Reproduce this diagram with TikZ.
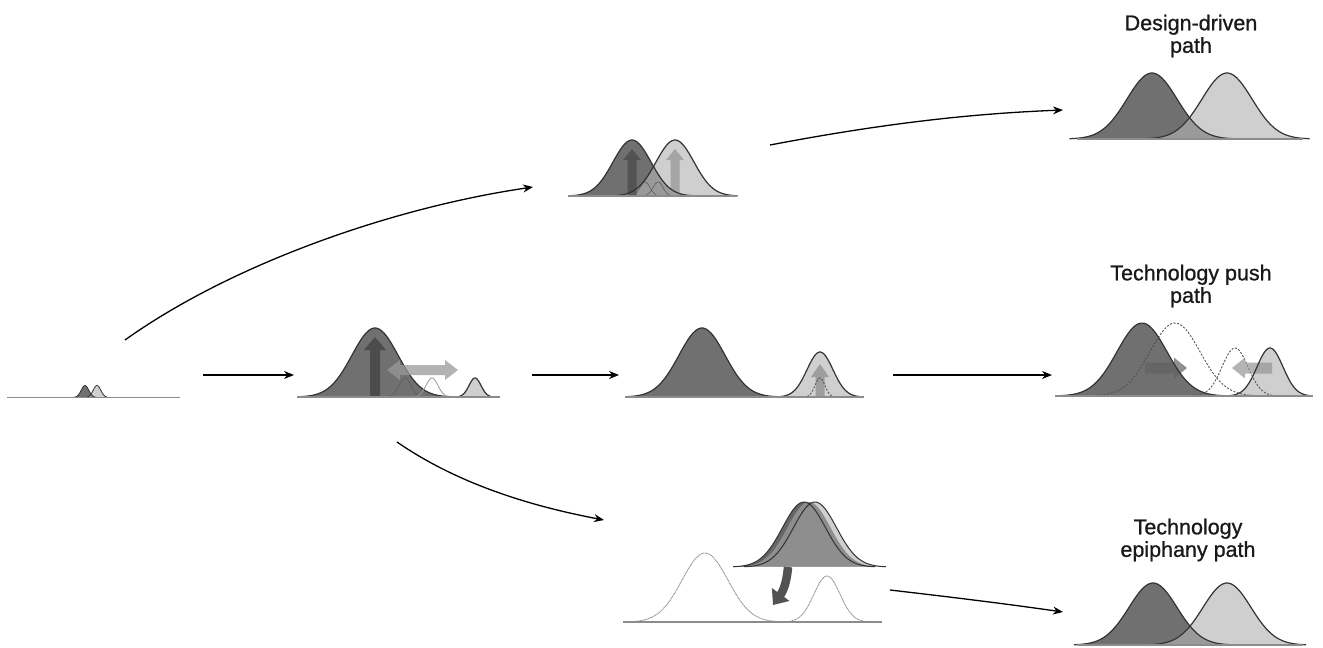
\documentclass[tikz,border=0pt]{standalone}
\usepackage{fontspec}
\setmainfont{Liberation Sans}
\newfontfamily\lblfont{Liberation Sans}[FakeBold=0.9]
\usetikzlibrary{arrows.meta}
\definecolor{dk}{HTML}{707070}
\definecolor{lt}{HTML}{CFCFCF}
\definecolor{ov}{HTML}{9A9A9A}
\definecolor{ln}{HTML}{333333}
\definecolor{bl}{HTML}{8C8C8C}
\definecolor{md}{HTML}{8E8E8E}
% gaussian: mu, base y, sigma, height
\newcommand{\gc}[4]{plot[domain=-3.3*#3:3.3*#3,samples=60,smooth] ({#1+\x},{#2-#4*exp(-0.5*(\x/#3)^2)})}
% overlap of two equal gaussians: mu1<mu2, base, sigma, height
\newcommand{\gmin}[5]{plot[domain=#2-3.3*#4:#1+3.3*#4,samples=60,smooth] (\x,{#3-#5*min(exp(-0.5*((\x-#1)/#4)^2),exp(-0.5*((\x-#2)/#4)^2))})}
% vertical block arrow up: x, bottom, tip, shaft half, head half, head length
\newcommand{\uparr}[6]{({#1-#4},{#2}) -- ({#1-#4},{#3+#6}) -- ({#1-#5},{#3+#6}) -- ({#1},{#3}) -- ({#1+#5},{#3+#6}) -- ({#1+#4},{#3+#6}) -- ({#1+#4},{#2}) -- cycle}
% horizontal block arrow: x0, tip x, y, shaft half, head half, head length (signed)
\newcommand{\harr}[6]{({#1},{#3-#4}) -- ({#2-#6},{#3-#4}) -- ({#2-#6},{#3-#5}) -- ({#2},{#3}) -- ({#2-#6},{#3+#5}) -- ({#2-#6},{#3+#4}) -- ({#1},{#3+#4}) -- cycle}
% double block arrow: x0, x1, y, shaft half, head half, head length
\newcommand{\dharr}[6]{({#1},{#3}) -- ({#1+#6},{#3-#5}) -- ({#1+#6},{#3-#4}) -- ({#2-#6},{#3-#4}) -- ({#2-#6},{#3-#5}) -- ({#2},{#3}) -- ({#2-#6},{#3+#5}) -- ({#2-#6},{#3+#4}) -- ({#1+#6},{#3+#4}) -- ({#1+#6},{#3+#5}) -- cycle}
\tikzset{
  dkf/.style={fill=dk},
  ltf/.style={fill=lt},
  ovf/.style={fill=ov},
  outl/.style={draw=ln,line width=1.2pt},
  thin/.style={draw=ln!80,line width=0.6pt},
  dashc/.style={draw=ln!85,line width=0.9pt,dash pattern=on 2pt off 1.6pt},
  dotc/.style={draw=black!45,line width=0.9pt,dash pattern=on 1pt off 0.6pt},
  baseln/.style={draw=bl,line width=1.8pt},
  conn/.style={draw=black,line width=1.3pt,-{Stealth[length=10pt,width=8pt]}},
  lbl/.style={font=\lblfont\fontsize{21.5}{22.5}\selectfont,align=center,text=black!90},
}
\begin{document}
\begin{tikzpicture}[x=1pt,y=-1pt]
\useasboundingbox (0,0) rectangle (1323,648);

% ---------- Panel 1 (left, tiny) ----------
\fill[dkf] \gc{85}{397.5}{3.8}{12} -- cycle;
\fill[ltf] \gc{97}{397.5}{3.8}{12} -- cycle;
\fill[ovf] \gmin{85}{97}{397.5}{3.8}{12} -- cycle;
\draw[ln,line width=0.8pt] \gc{85}{397.5}{3.8}{12};
\draw[ln,line width=0.8pt] \gc{97}{397.5}{3.8}{12};
\draw[baseln] (7,397.5) -- (180,397.5);

% ---------- Panel 2 ----------
\fill[dkf] \gc{375}{397}{23}{69} -- cycle;
\draw[outl] \gc{375}{397}{23}{69};
\draw[thin] \gc{405}{397}{6}{19};
\draw[draw=black!40,line width=0.8pt] \gc{432}{397}{6}{19};
\fill[ltf] \gc{475}{397}{6}{19} -- cycle;
\draw[outl] \gc{475}{397}{6}{19};
\fill[black!70] \uparr{375}{397}{337}{5}{11}{13};
\fill[black!40,opacity=0.75] \dharr{387}{458}{370}{5}{10}{13};
\draw[baseln] (297,397) -- (500,397);

% ---------- Panel 3 (top middle) ----------
\fill[dkf] \gc{632}{196}{19}{56} -- cycle;
\fill[ltf] \gc{675}{196}{19}{56} -- cycle;
\fill[ovf] \gmin{632}{675}{196}{19}{56} -- cycle;
\draw[thin] \gc{645}{196}{5}{14};
\draw[thin] \gc{658}{196}{5}{14};
\fill[black!70,opacity=0.8] \uparr{632}{196}{149}{4.5}{9}{11};
\fill[black!38,opacity=0.85] \uparr{675}{196}{149}{4.5}{9}{11};
\draw[outl] \gc{632}{196}{19}{56};
\draw[outl] \gc{675}{196}{19}{56};
\draw[baseln] (568,196) -- (737,196);

% ---------- Panel 4 (middle) ----------
\fill[dkf] \gc{702}{397}{23}{69} -- cycle;
\draw[outl] \gc{702}{397}{23}{69};
\fill[ltf] \gc{820}{397}{13}{45} -- cycle;
\fill[black!38] \uparr{820}{397}{364}{4.5}{9}{13};
\draw[dashc] \gc{820}{397}{5}{19};
\draw[outl] \gc{820}{397}{13}{45};
\draw[baseln] (625,397) -- (864,397);

% ---------- Panel 5 (design-driven) ----------
\fill[dkf] \gc{1152}{139}{25}{66} -- cycle;
\fill[ltf] \gc{1227}{139}{25}{66} -- cycle;
\fill[ovf] \gmin{1152}{1227}{139}{25}{66} -- cycle;
\draw[outl] \gc{1152}{139}{25}{66};
\draw[outl] \gc{1227}{139}{25}{66};
\draw[baseln] (1077,139) -- (1303,139);

% ---------- Panel 6 (technology push) ----------
\fill[dkf] \gc{1142}{396}{25}{73} -- cycle;
\fill[ltf] \gc{1270}{396}{13}{48} -- cycle;
\draw[dashc] \gc{1175}{396}{25}{73};
\draw[dashc] \gc{1235}{396}{13}{48};
\fill[black!62,opacity=0.7] \harr{1145}{1187}{368}{5.5}{10.5}{13};
\fill[black!42,opacity=0.7] \harr{1272}{1232}{368}{5.5}{10.5}{-13};
\draw[outl] \gc{1142}{396}{25}{73};
\draw[outl] \gc{1270}{396}{13}{48};
\draw[baseln] (1055,396) -- (1313,396);

% ---------- Panel 7 (epiphany, bottom middle) ----------
\draw[dotc] \gc{705}{622}{23}{69};
\draw[dotc] \gc{827}{622}{13}{46};
\draw[baseln] (623,622) -- (882,622);
\fill[black!60] \gc{804}{567}{21.5}{65} -- cycle;
\fill[lt] \gc{815}{567}{21.5}{65} -- cycle;
\fill[md] \gc{809}{567}{21.5}{65} -- cycle;
\draw[ln,line width=1pt] \gc{804}{567}{21.5}{65};
\draw[ln,line width=1pt] \gc{815}{567}{21.5}{65};
\draw[black!68,line width=8.5pt,-{Triangle[length=13pt,width=21pt]}] (788,567) .. controls (787,580) and (784,590) .. (773,605);

% ---------- Panel 8 (bottom right) ----------
\fill[dkf] \gc{1153}{645}{24}{62} -- cycle;
\fill[ltf] \gc{1227}{645}{24}{62} -- cycle;
\fill[ovf] \gmin{1153}{1227}{645}{24}{62} -- cycle;
\draw[outl] \gc{1153}{645}{24}{62};
\draw[outl] \gc{1227}{645}{24}{62};
\draw[baseln] (1077,645) -- (1303,645);

% ---------- Labels ----------
\node[lbl] (ldd) at (1191,36) {Design-driven\\path};
\node[lbl] (ltp) at (1191,286) {Technology push\\path};
\node[lbl] (lte) at (1188,540) {Technology\\epiphany path};

% ---------- Connectors ----------
\coordinate (a1) at (203,375); \coordinate (b1) at (294,375);
\coordinate (a2) at (532,375); \coordinate (b2) at (619,375);
\coordinate (a3) at (893,375); \coordinate (b3) at (1052,375);
\coordinate (a4) at (125,340); \coordinate (b4) at (533,187);
\coordinate (a5) at (770,145); \coordinate (b5) at (1063,110);
\coordinate (a6) at (397,442); \coordinate (b6) at (604,520);
\coordinate (a7) at (890,590); \coordinate (b7) at (1063,612);
\draw[conn] (a1) -- (b1);
\draw[conn] (a2) -- (b2);
\draw[conn] (a3) -- (b3);
\draw[conn] (a4) .. controls (230,265) and (390,208) .. (b4);
\draw[conn] (a5) .. controls (870,126) and (960,114) .. (b5);
\draw[conn] (a6) .. controls (455,482) and (525,505) .. (b6);
\draw[conn] (a7) .. controls (950,597) and (1000,603) .. (b7);
\end{tikzpicture}
\end{document}
